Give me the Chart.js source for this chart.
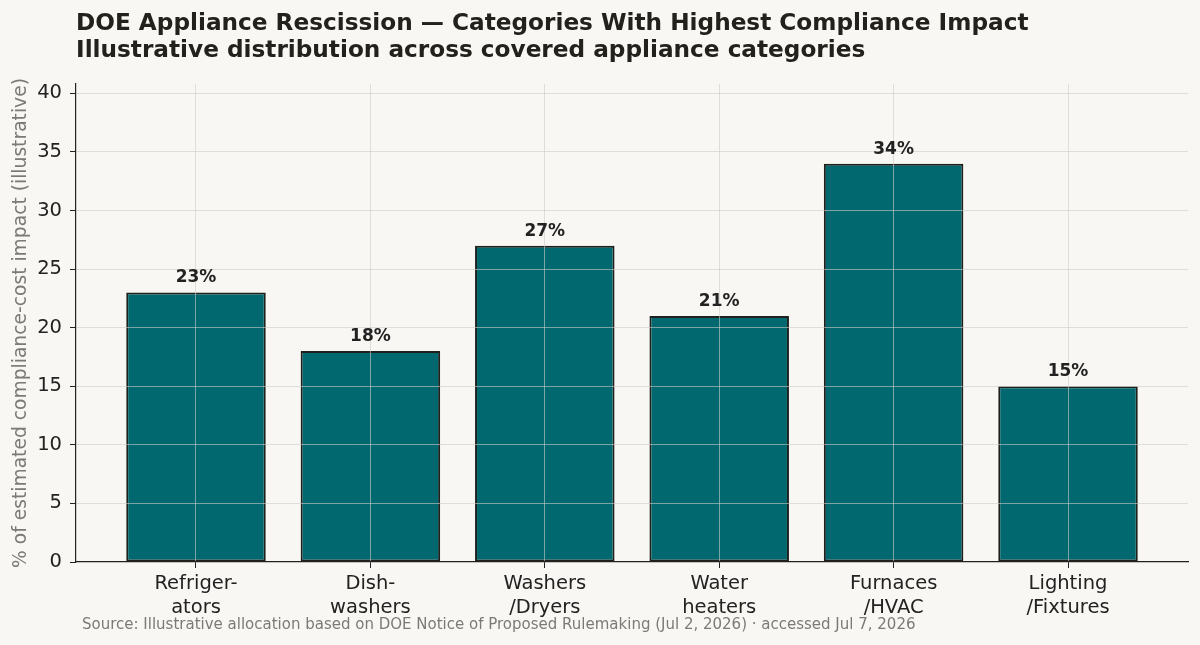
<!DOCTYPE html>
<html>
<head>
<meta charset="utf-8">
<script src="https://cdn.jsdelivr.net/npm/chart.js@4"></script>
<style>
  html, body { margin: 0; padding: 0; background: #f8f7f3; }
  #wrap { position: relative; width: 1200px; height: 645px; }
  #title { position: absolute; left: 76px; top: 8px; font: bold 23.2px "DejaVu Sans", sans-serif; color: #22211c; line-height: 27px; }
  #source { position: absolute; left: 82px; top: 615px; font: 15px "DejaVu Sans", sans-serif; color: #7a7a76; }
  canvas { position: absolute; left: 0; top: 0; }
</style>
</head>
<body>
<div id="wrap">
  <canvas id="monGraphe" width="1200" height="645"></canvas>
  <div id="title">DOE Appliance Rescission — Categories With Highest Compliance Impact<br>Illustrative distribution across covered appliance categories</div>
  <div id="source">Source: Illustrative allocation based on DOE Notice of Proposed Rulemaking (Jul 2, 2026) · accessed Jul 7, 2026</div>
</div>
<script>
// categories (2 lines each) and values
const categories = [
  ["Refriger-", "ators"],
  ["Dish-", "washers"],
  ["Washers", "/Dryers"],
  ["Water", "heaters"],
  ["Furnaces", "/HVAC"],
  ["Lighting", "/Fixtures"]
];
const impact = [23, 18, 27, 21, 34, 15];
const yTicks = [0, 5, 10, 15, 20, 25, 30, 35, 40];

const gridColor = "rgba(205,205,200,0.6)";
const dark = "#222222";

// value labels above bars, on top of everything
const barLabels = {
  id: "barLabels",
  afterDraw(chart) {
    const ctx = chart.ctx;
    const meta = chart.getDatasetMeta(0);
    ctx.save();
    ctx.font = "bold 17px 'DejaVu Sans'";
    ctx.fillStyle = dark;
    ctx.textAlign = "center";
    ctx.textBaseline = "bottom";
    meta.data.forEach((bar, i) => {
      ctx.fillText(impact[i] + "%", bar.x, bar.y - 6);
    });
    ctx.restore();
  }
};

const ctx = document.getElementById("monGraphe");
Chart.defaults.font.family = "'DejaVu Sans'";
const myChart = new Chart(ctx, {
  type: "bar",
  data: {
    datasets: [{
      data: impact.map((v, i) => ({ x: i, y: v })),
      backgroundColor: "#02686f",
      borderColor: "#1e201e",
      borderWidth: 2,
      borderSkipped: false,
      barPercentage: 0.8,
      categoryPercentage: 1.0
    }]
  },
  options: {
    responsive: false,
    animation: false,
    layout: { padding: { top: 84, right: 12, bottom: 0, left: 0 } },
    plugins: { legend: { display: false }, tooltip: { enabled: false } },
    scales: {
      x: {
        type: "linear",
        min: -0.688,
        max: 5.688,
        offset: false,
        afterBuildTicks: s => { s.ticks = categories.map((c, i) => ({ value: i })); },
        afterFit: s => { s.height = 83; },
        ticks: {
          callback: v => categories[v],
          color: dark,
          font: { size: 19.5, lineHeight: 1.22 },
          padding: 4,
          maxRotation: 0,
          autoSkip: false
        },
        grid: { offset: false, color: gridColor, tickColor: dark, tickLength: 6, z: 1 },
        border: { color: dark, width: 1.2, z: 2 }
      },
      y: {
        min: 0,
        max: 40.8,
        afterBuildTicks: s => { s.ticks = yTicks.map(v => ({ value: v })); },
        afterFit: s => { s.width = 76; },
        ticks: { color: dark, font: { size: 19.5 }, padding: 8 },
        grid: {
          color: c => (c.tick && c.tick.value === 0 ? "rgba(0,0,0,0)" : gridColor),
          tickColor: dark,
          tickLength: 6,
          z: 1
        },
        border: { color: dark, width: 1.2, z: 2 },
        title: {
          display: true,
          text: "% of estimated compliance-cost impact (illustrative)",
          color: "#7a7a76",
          font: { size: 18.7 },
          padding: { top: 10, bottom: 0 }
        }
      }
    }
  },
  plugins: [barLabels]
});
</script>
</body>
</html>
